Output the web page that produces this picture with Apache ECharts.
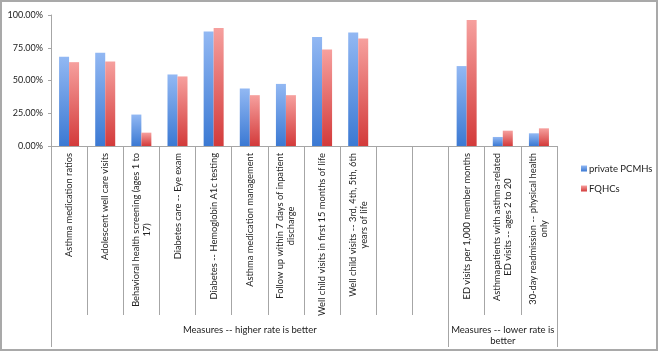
<!DOCTYPE html>
<html>
<head>
<meta charset="utf-8">
<script src="https://cdn.jsdelivr.net/npm/echarts@6/dist/echarts.min.js"></script>
<style>
  html, body { margin: 0; padding: 0; background: #fff; }
  #main { width: 659px; height: 353px; }
</style>
</head>
<body>
<div id="main"></div>
<script>
// categories (two blank slots separate the groups, as in the original)
var categories = [
  'Asthma medication ratios',
  'Adolescent well care visits',
  'Behavioral health screening (ages 1 to\n17)',
  'Diabetes care -- Eye exam',
  'Diabetes -- Hemoglobin A1c testing',
  'Asthma medication management',
  'Follow up within 7 days of inpatient\ndischarge',
  'Well child visits in first 15 months of life',
  'Well child visits -- 3rd, 4th, 5th, 6th\nyears of life',
  ' ',
  '  ',
  'ED visits per 1,000 member months',
  'Asthmapatients with asthma-related\nED visits -- ages 2 to 20',
  '30-day readmission -- physical health\nonly'
];
var privatePCMHs = [68.1, 71.2, 24.0, 54.6, 87.5, 43.9, 47.4, 83.2, 86.7, null, null, 61.0, 6.9, 9.7];
var fqhcs        = [64.0, 64.5, 10.2, 53.1, 90.1, 38.8, 38.8, 73.7, 82.1, null, null, 96.2, 11.7, 13.5];
var groupNames = ['Measures -- higher rate is better', 'Measures -- lower rate is\nbetter'];
var groupSizes = [11, 3];
var yTicks = [0, 25, 50, 75, 100];

// group boundaries and centres on a 0..n scale
var bounds = [0], centres = [];
groupSizes.forEach(function (n, i) {
  var start = bounds[i];
  bounds.push(start + n);
  centres.push(start + n / 2);
});

var font = 'Lato';
var grey = '#a6a6a6';

var chart = echarts.init(document.getElementById('main'));
chart.setOption({
  backgroundColor: '#fff',
  animation: false,
  textStyle: { fontFamily: font },
  graphic: [{
    type: 'rect',
    shape: { x: 1, y: 1, width: 656, height: 349 },
    style: { fill: 'none', stroke: '#a9a9a9', lineWidth: 2 },
    silent: true
  }],
  grid: { left: 51, right: 102, top: 15, bottom: 207 },
  legend: {
    orient: 'vertical',
    left: 576,
    top: 158,
    itemWidth: 6,
    itemHeight: 6,
    itemGap: 9,
    icon: 'rect',
    textStyle: { fontFamily: font, fontSize: 9.5, color: '#222', lineHeight: 11, padding: [0, 0, 0, -3] },
    data: ['private PCMHs', 'FQHCs']
  },
  xAxis: [{
    type: 'category',
    data: categories,
    axisLine: { show: true, lineStyle: { color: grey } },
    axisTick: { show: true, alignWithLabel: false, interval: 0, length: 169, lineStyle: { color: grey } },
    axisLabel: {
      interval: 0,
      rotate: 90,
      margin: 7,
      fontFamily: font,
      fontSize: 9.3,
      color: '#222',
      lineHeight: 11,
      formatter: function (v) {
        if (!v.trim()) return '';
        return v.split('\n').map(function (s) { return '{c|' + s + '}'; }).join('\n');
      },
      rich: { c: { align: 'center', fontFamily: font, fontSize: 9.3, color: '#222', lineHeight: 11 } }
    }
  }, {
    type: 'value',
    position: 'bottom',
    min: 0,
    max: categories.length,
    axisLine: { show: false },
    splitLine: { show: false },
    axisTick: { show: true, customValues: bounds, length: 201, lineStyle: { color: grey } },
    axisLabel: {
      customValues: centres,
      margin: 178,
      fontFamily: font,
      fontSize: 9.5,
      color: '#222',
      lineHeight: 11,
      align: 'center',
      formatter: function (v) {
        return groupNames[centres.indexOf(v)] || '';
      }
    }
  }],
  yAxis: {
    type: 'value',
    min: 0,
    max: 100,
    interval: 25,
    axisLine: { show: true, lineStyle: { color: grey } },
    axisTick: { show: true, length: 3, lineStyle: { color: grey } },
    splitLine: { show: false },
    axisLabel: {
      margin: 8,
      fontFamily: font,
      fontSize: 9,
      color: '#222',
      customValues: yTicks,
      formatter: function (v) { return v.toFixed(2) + '%'; }
    }
  },
  series: [{
    name: 'private PCMHs',
    type: 'bar',
    xAxisIndex: 0,
    data: privatePCMHs,
    barWidth: 10,
    barGap: '0%',
    itemStyle: {
      color: new echarts.graphic.LinearGradient(0, 0, 0, 1, [
        { offset: 0, color: '#92b8f3' },
        { offset: 1, color: '#3b79d3' }
      ])
    }
  }, {
    name: 'FQHCs',
    type: 'bar',
    xAxisIndex: 0,
    data: fqhcs,
    barWidth: 10,
    barGap: '0%',
    itemStyle: {
      color: new echarts.graphic.LinearGradient(0, 0, 0, 1, [
        { offset: 0, color: '#f6a09e' },
        { offset: 1, color: '#d33a3a' }
      ])
    }
  }]
});
</script>
</body>
</html>
